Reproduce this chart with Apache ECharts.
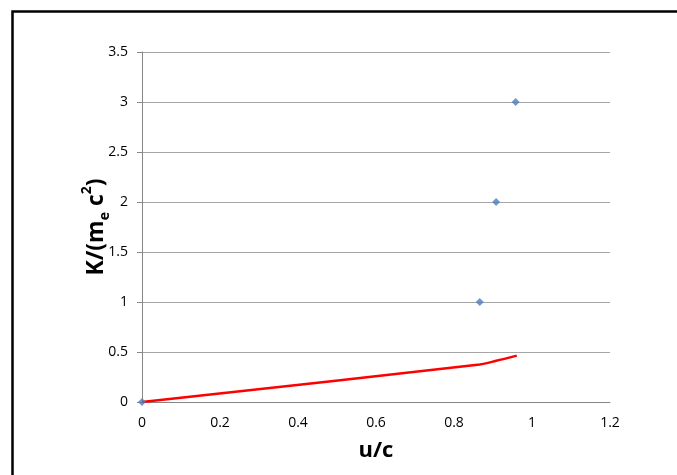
<!DOCTYPE html>
<html>
<head>
<meta charset="utf-8">
<script src="https://cdn.jsdelivr.net/npm/echarts@6/dist/echarts.min.js"></script>
<style>
  html, body { margin: 0; padding: 0; background: #fff; }
  #chart { width: 677px; height: 475px; }
</style>
</head>
<body>
<div id="chart"></div>
<script>
// relativistic points (u/c, K/(me c^2))
const relU = [0, 0.866, 0.908, 0.958]
const relK = [0, 1, 2, 3]
// classical curve
const clsU = [0, 0.866, 0.908, 0.961]
const clsK = [0, 0.375, 0.412, 0.464]

const xTicks = { min: 0, max: 1.2, interval: 0.2 }
const yTicks = { min: 0, max: 3.5, interval: 0.5 }

const font = "'Open Sans', 'Liberation Sans', sans-serif"

const chart = echarts.init(document.getElementById('chart'))
chart.setOption({
  animation: false,
  backgroundColor: '#fff',
  graphic: [
    {
      type: 'rect',
      left: 10,
      top: 9,
      shape: { width: 720, height: 520 },
      style: { fill: 'none', stroke: '#000', lineWidth: 2.5 },
      silent: true
    }
  ],
  grid: { left: 142, right: 67, top: 52, bottom: 73 },
  xAxis: {
    type: 'value',
    min: xTicks.min,
    max: xTicks.max,
    interval: xTicks.interval,
    name: 'u/c',
    nameLocation: 'middle',
    nameGap: 38,
    nameTextStyle: { fontFamily: font, fontWeight: 'bold', fontSize: 22, color: '#000' },
    axisLine: { lineStyle: { color: '#868686', width: 1 } },
    axisTick: { show: false },
    axisLabel: { fontFamily: font, fontSize: 14, color: '#000', margin: 14 },
    splitLine: { show: false }
  },
  yAxis: {
    type: 'value',
    min: yTicks.min,
    max: yTicks.max,
    interval: yTicks.interval,
    name: '{t|K/(m}{sub|e}{t| c}{sup|2}{t|)}',
    nameLocation: 'middle',
    nameGap: 30,
    nameMoveOverlap: false,
    nameTextStyle: {
      rich: {
        t: { fontFamily: font, fontWeight: 'bold', fontSize: 23, color: '#000', lineHeight: 32 },
        sub: { fontFamily: font, fontWeight: 'bold', fontSize: 14, color: '#000', verticalAlign: 'bottom', lineHeight: 32 },
        sup: { fontFamily: font, fontWeight: 'bold', fontSize: 14, color: '#000', verticalAlign: 'top', lineHeight: 32 }
      }
    },
    axisLine: { show: true, lineStyle: { color: '#868686', width: 1 } },
    axisTick: { show: true, length: 5, lineStyle: { color: '#868686' } },
    axisLabel: { fontFamily: font, fontSize: 14, color: '#000', margin: 14 },
    splitLine: { lineStyle: { color: '#a6a6a6', width: 1 } }
  },
  series: [
    {
      name: 'classical',
      type: 'line',
      data: clsU.map((u, i) => [u, clsK[i]]),
      smooth: 0.3,
      showSymbol: false,
      lineStyle: { color: '#ff0000', width: 2.5 },
      z: 2
    },
    {
      name: 'relativistic',
      type: 'scatter',
      data: relU.map((u, i) => [u, relK[i]]),
      symbol: 'diamond',
      symbolSize: 8,
      itemStyle: { color: '#4a7ebb' },
      z: 3
    }
  ]
})
</script>
</body>
</html>
